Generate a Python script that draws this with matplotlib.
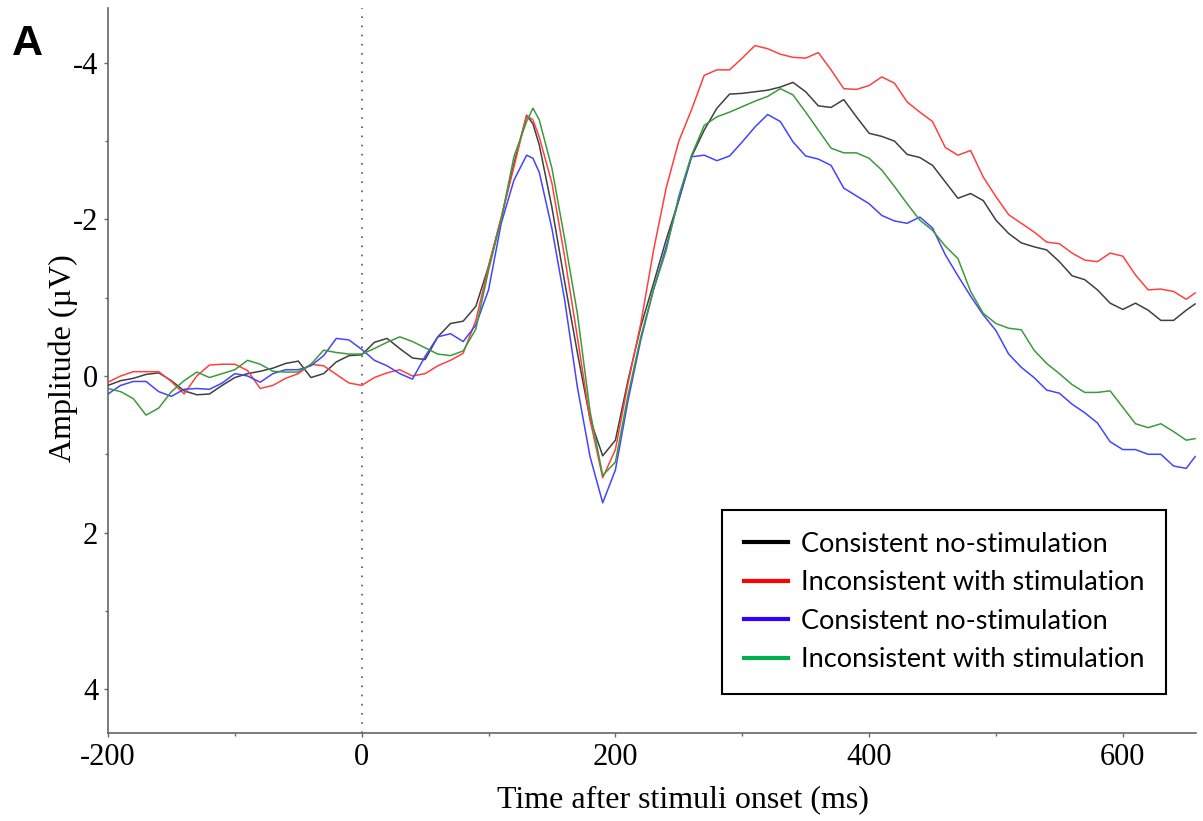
# =============================================================================
# plot.py — Grand-average ERP waveforms (panel A)
# =============================================================================
import matplotlib.pyplot as plt
from matplotlib.lines import Line2D
from matplotlib.ticker import MultipleLocator

plt.rcParams.update({
    "font.family": "Liberation Serif",
    "axes.unicode_minus": False,
})

# ---------------------------------------------------------------------------
# Data (amplitude in µV, negative plotted upwards)
# ---------------------------------------------------------------------------
TIME_MS = [
    -200, -190, -180, -170, -160, -150, -140, -130, -120, -110,
    -100, -90, -80, -70, -60, -50, -40, -30, -20, -10,
    0, 10, 20, 30, 40, 50, 60, 70, 80, 90,
    100, 110, 120, 130, 135, 140, 150, 160, 170, 180, 190,
    200, 210, 220, 230, 240, 250, 260, 270, 280, 290,
    300, 310, 320, 330, 340, 350, 360, 370, 380, 390,
    400, 410, 420, 430, 440, 450, 460, 470, 480, 490,
    500, 510, 520, 530, 540, 550, 560, 570, 580, 590,
    600, 610, 620, 630, 640, 650, 657,
]

black_uv = [
    0.12, 0.06, 0.03, -0.02, -0.04, 0.06, 0.19, 0.24, 0.23, 0.12,
    0.02, -0.03, -0.06, -0.10, -0.16, -0.19, 0.02, -0.03, -0.18, -0.26,
    -0.27, -0.43, -0.48, -0.35, -0.23, -0.21, -0.50, -0.67, -0.70, -0.89,
    -1.40, -2.01, -2.71, -3.33, -3.22, -2.95, -2.15, -1.20, -0.30, 0.55, 1.02,
    0.82, 0.05, -0.63, -1.18, -1.74, -2.25, -2.80, -3.14, -3.42, -3.60,
    -3.61, -3.63, -3.65, -3.69, -3.75, -3.63, -3.45, -3.43, -3.53, -3.31,
    -3.10, -3.06, -3.00, -2.83, -2.79, -2.69, -2.48, -2.27, -2.33, -2.24,
    -1.99, -1.82, -1.70, -1.65, -1.61, -1.46, -1.28, -1.23, -1.10, -0.93,
    -0.85, -0.93, -0.84, -0.71, -0.71, -0.84, -0.92,
]

red_uv = [
    0.08, 0.00, -0.055, -0.055, -0.055, 0.07, 0.23, 0.00, -0.14, -0.15,
    -0.15, -0.07, 0.16, 0.12, 0.03, -0.03, -0.15, -0.13, -0.02, 0.09,
    0.12, 0.02, -0.04, -0.08, 0.00, -0.03, -0.13, -0.20, -0.29, -0.71,
    -1.40, -2.03, -2.67, -3.33, -3.27, -3.05, -2.46, -1.52, -0.50, 0.56, 1.30,
    0.94, 0.09, -0.67, -1.60, -2.40, -3.00, -3.40, -3.84, -3.91, -3.91,
    -4.06, -4.22, -4.18, -4.11, -4.07, -4.06, -4.13, -3.91, -3.67, -3.66,
    -3.71, -3.82, -3.74, -3.50, -3.37, -3.25, -2.92, -2.82, -2.88, -2.54,
    -2.29, -2.06, -1.95, -1.84, -1.71, -1.69, -1.57, -1.48, -1.46, -1.57,
    -1.53, -1.29, -1.10, -1.11, -1.08, -0.98, -1.06,
]

blue_uv = [
    0.23, 0.12, 0.07, 0.07, 0.20, 0.26, 0.17, 0.16, 0.17, 0.09,
    -0.03, 0.00, 0.08, -0.03, -0.08, -0.08, -0.13, -0.26, -0.48, -0.46,
    -0.34, -0.20, -0.13, -0.03, 0.04, -0.25, -0.50, -0.54, -0.44, -0.65,
    -1.10, -1.95, -2.50, -2.82, -2.78, -2.60, -1.88, -0.97, 0.14, 1.03, 1.62,
    1.20, 0.31, -0.46, -1.10, -1.65, -2.25, -2.80, -2.82, -2.75, -2.81,
    -2.99, -3.18, -3.34, -3.25, -2.99, -2.81, -2.77, -2.69, -2.40, -2.30,
    -2.20, -2.05, -1.98, -1.95, -2.03, -1.89, -1.55, -1.28, -1.02, -0.78,
    -0.58, -0.28, -0.11, 0.02, 0.18, 0.22, 0.36, 0.47, 0.60, 0.84,
    0.94, 0.94, 1.00, 1.00, 1.15, 1.18, 1.03,
]

green_uv = [
    0.16, 0.20, 0.29, 0.50, 0.41, 0.20, 0.06, -0.05, 0.02, -0.03,
    -0.08, -0.20, -0.15, -0.06, -0.05, -0.05, -0.15, -0.33, -0.30, -0.28,
    -0.28, -0.35, -0.43, -0.50, -0.44, -0.36, -0.28, -0.26, -0.32, -0.60,
    -1.35, -2.00, -2.80, -3.25, -3.42, -3.27, -2.65, -1.75, -0.80, 0.45, 1.27,
    1.10, 0.24, -0.50, -1.10, -1.60, -2.30, -2.82, -3.20, -3.31, -3.37,
    -3.44, -3.51, -3.57, -3.67, -3.59, -3.37, -3.14, -2.91, -2.85, -2.85,
    -2.78, -2.63, -2.42, -2.20, -1.99, -1.86, -1.66, -1.50, -1.08, -0.80,
    -0.67, -0.61, -0.59, -0.33, -0.16, -0.03, 0.11, 0.21, 0.21, 0.19,
    0.40, 0.61, 0.66, 0.61, 0.71, 0.82, 0.80,
]

LABELS = [
    "Consistent no-stimulation",
    "Inconsistent with stimulation",
    "Consistent no-stimulation",
    "Inconsistent with stimulation",
]
TRACE_COLORS = ["#404040", "#ff4040", "#4444ff", "#3c9a3c"]
LEGEND_COLORS = ["#000000", "#ff0000", "#3300ff", "#00b050"]

X_TICKS = [-200, 0, 200, 400, 600]
Y_TICKS = [-4, -2, 0, 2, 4]


def _style_ax(ax):
    for side in ("top", "right"):
        ax.spines[side].set_visible(False)
    for side in ("left", "bottom"):
        ax.spines[side].set_color("#666666")
        ax.spines[side].set_linewidth(1.2)
    ax.tick_params(axis="both", which="major", direction="out", length=3,
                   width=1.0, color="#666666", labelsize=22, pad=4)
    ax.tick_params(axis="both", which="minor", direction="out", length=2,
                   width=1.0, color="#666666")


fig = plt.figure(figsize=(12.03, 8.21), dpi=100)
ax = fig.add_axes([108 / 1203, 1 - 733 / 821, 1088 / 1203, 725 / 821])

series = [black_uv, red_uv, blue_uv, green_uv]
for values, color in zip(series, TRACE_COLORS):
    ax.plot(TIME_MS, values, color=color, lw=1.1, zorder=3)

ax.axvline(0, color="#555555", lw=1.2, linestyle=(0, (1, 4.5)), zorder=2)

ax.set_xlim(-200, 657.7)
ax.set_ylim(4.56, -4.70)   # ERP convention: negative up
ax.set_xticks(X_TICKS)
ax.set_yticks(Y_TICKS)
ax.xaxis.set_minor_locator(MultipleLocator(100))
ax.yaxis.set_minor_locator(MultipleLocator(1))
_style_ax(ax)

ax.set_xlabel("Time after stimuli onset (ms)", fontsize=23)
ax.xaxis.set_label_coords(0.528, -0.072)
ax.set_ylabel("Amplitude (µV)", fontsize=23)
ax.yaxis.set_label_coords(-0.028, 0.517)

handles = [Line2D([], [], color=c, lw=3) for c in LEGEND_COLORS]
leg = ax.legend(
    handles, LABELS, loc="upper left",
    bbox_to_anchor=(722 / 1203, 1 - 510 / 821), bbox_transform=fig.transFigure,
    borderaxespad=0, prop={"family": "Lato", "size": 19.5},
    handlelength=1.65, handletextpad=0.45, borderpad=0.8, labelspacing=0.5,
    fancybox=False, framealpha=1, edgecolor="black",
)
leg.get_frame().set_linewidth(1.5)

fig.text(12 / 1203, 1 - 44 / 821, "A", fontsize=31, fontweight="bold",
         family="Liberation Sans", ha="left", va="center")

fig.savefig("out.png", dpi=100)
